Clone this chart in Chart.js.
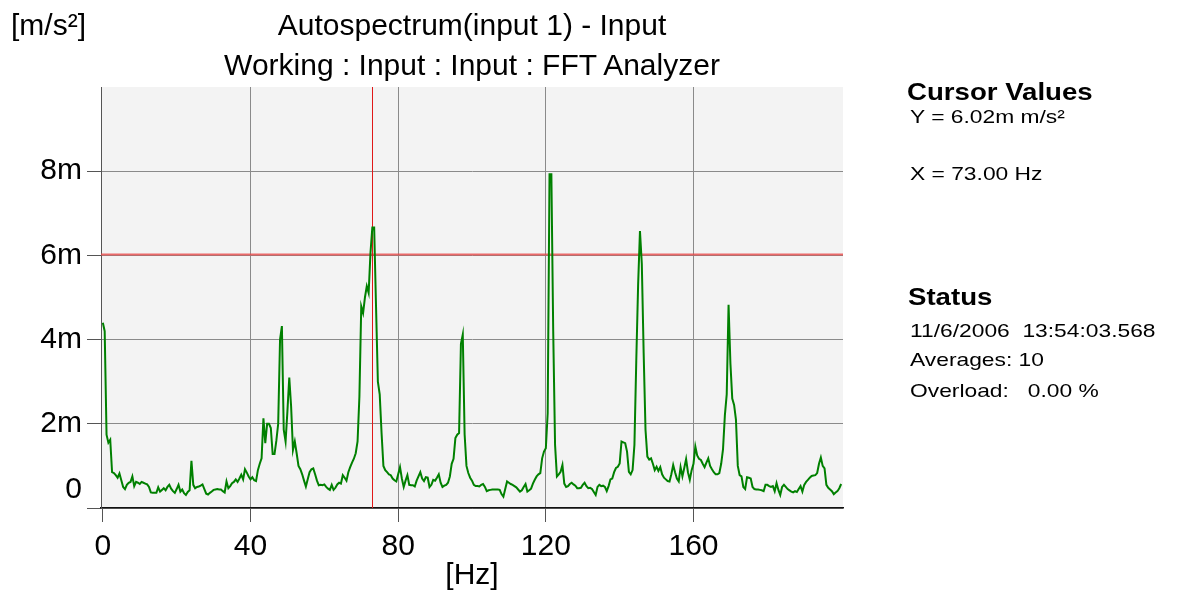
<!DOCTYPE html>
<html>
<head>
<meta charset="utf-8">
<title>Autospectrum</title>
<script src="https://cdn.jsdelivr.net/npm/chart.js@4.4.1/dist/chart.umd.min.js"></script>
<style>
  body { margin: 0; background: #fff; font-family: "Liberation Sans", Arial, sans-serif; }
  #wrap { position: relative; width: 1182px; height: 593px; overflow: hidden; }
  #chart { position: absolute; left: 0; top: 0; }
  .t { position: absolute; white-space: pre; line-height: 1; color: #000; }
  .big { font-size: 30px; }
  .center { text-align: center; }
  .head { font-size: 24px; font-weight: bold; transform: scaleX(1.15); transform-origin: left top; }
  .small { font-size: 19px; transform: scaleX(1.2); transform-origin: left top; }
</style>
</head>
<body>
<div id="wrap">
  <canvas id="chart" width="1182" height="593"></canvas>

  <div class="t big" style="left:11px; top:10px;">[m/s²]</div>
  <div class="t big center" style="left:172px; width:600px; top:10px;">Autospectrum(input 1) - Input</div>
  <div class="t big center" style="left:172px; width:600px; top:50px;">Working : Input : Input : FFT Analyzer</div>
  <div class="t big center" style="left:372px; width:200px; top:559px;">[Hz]</div>

  <div class="t head" style="left:907px; top:80px;">Cursor Values</div>
  <div class="t small" style="left:910px; top:107px;">Y = 6.02m m/s²</div>
  <div class="t small" style="left:910px; top:164px;">X = 73.00 Hz</div>

  <div class="t head" style="left:908px; top:285px;">Status</div>
  <div class="t small" style="left:910px; top:321px;">11/6/2006  13:54:03.568</div>
  <div class="t small" style="left:910px; top:350px;">Averages: 10</div>
  <div class="t small" style="left:910px; top:381px;">Overload:   0.00 %</div>
</div>

<script>
  // --- data: autospectrum, 0.5 Hz lines, values in m (milli) m/s² ---
  const FREQ_STEP = 0.5;
  const AMPLITUDE = [
    4.4, 4.2, 1.74, 1.55, 1.62, 0.85, 0.83, 0.78, 0.72, 0.82,
    0.66, 0.5, 0.45, 0.55, 0.6, 0.62, 0.75, 0.52, 0.62, 0.6,
    0.57, 0.62, 0.6, 0.58, 0.56, 0.5, 0.37, 0.36, 0.36, 0.36,
    0.49, 0.39, 0.43, 0.47, 0.42, 0.5, 0.55, 0.46, 0.4, 0.36,
    0.45, 0.55, 0.39, 0.44, 0.35, 0.31, 0.38, 0.42, 1.12, 0.55,
    0.47, 0.5, 0.51, 0.53, 0.56, 0.45, 0.34, 0.32, 0.36, 0.39,
    0.43, 0.44, 0.45, 0.44, 0.44, 0.4, 0.37, 0.63, 0.47, 0.52,
    0.59, 0.62, 0.68, 0.62, 0.7, 0.79, 0.68, 0.92, 0.84, 0.75,
    0.68, 0.73, 0.66, 0.64, 0.9, 1.05, 1.18, 2.13, 1.54, 2.0,
    2.0, 1.9, 1.28, 1.28, 1.6, 2.0, 4.0, 4.32, 1.86, 1.58,
    2.3, 3.1, 2.41, 1.38, 1.58, 1.3, 1.0, 0.92, 0.8, 0.65,
    0.51, 0.68, 0.85, 0.92, 0.94, 0.8, 0.65, 0.54, 0.55, 0.54,
    0.56, 0.5, 0.46, 0.43, 0.55, 0.43, 0.48, 0.56, 0.6, 0.58,
    0.78, 0.72, 0.65, 0.85, 0.97, 1.08, 1.17, 1.3, 1.58, 2.65,
    4.79, 4.63, 5.0, 5.27, 5.11, 6.06, 6.66, 6.66, 4.8, 3.0,
    2.7, 1.78, 1.0, 0.9, 0.85, 0.8, 0.78, 0.7, 0.66, 0.63,
    0.8, 0.97, 0.7, 0.5, 0.65, 0.78, 0.55, 0.54, 0.54, 0.51,
    0.65, 0.75, 0.85, 0.7, 0.64, 0.73, 0.72, 0.5, 0.55, 0.67,
    0.65, 0.72, 0.8, 0.6, 0.5, 0.53, 0.55, 0.6, 0.75, 1.05,
    1.17, 1.66, 1.74, 1.78, 3.9, 4.12, 1.75, 1.0, 0.83, 0.72,
    0.65, 0.55, 0.52, 0.52, 0.51, 0.55, 0.57, 0.5, 0.4, 0.42,
    0.43, 0.44, 0.44, 0.44, 0.44, 0.43, 0.33, 0.27, 0.45, 0.63,
    0.6, 0.57, 0.55, 0.52, 0.49, 0.44, 0.39, 0.42, 0.5, 0.57,
    0.39, 0.42, 0.46, 0.58, 0.67, 0.75, 0.8, 0.83, 1.18, 1.34,
    1.42, 2.25, 7.93, 7.93, 4.2, 1.5, 0.75, 0.8, 0.86, 1.02,
    0.58, 0.5, 0.52, 0.57, 0.6, 0.56, 0.53, 0.47, 0.47, 0.48,
    0.55, 0.6, 0.52, 0.47, 0.48, 0.45, 0.38, 0.31, 0.5, 0.55,
    0.52, 0.53, 0.5, 0.4, 0.52, 0.68, 0.7, 0.85, 0.95, 0.98,
    1.06, 1.58, 1.56, 1.54, 1.34, 0.86, 0.8, 0.9, 1.5, 3.5,
    5.3, 6.58, 5.8, 3.68, 1.86, 1.22, 1.15, 1.18, 1.05, 0.9,
    0.98, 0.88, 0.97, 0.8, 0.72, 0.68, 0.64, 0.63, 0.8, 1.02,
    0.85, 0.7, 0.63, 0.97, 0.75, 0.95, 1.16, 0.85, 0.67, 0.9,
    1.05, 1.46, 1.25, 1.17, 1.14, 1.05, 0.97, 1.08, 1.18, 1.0,
    0.92, 0.85, 0.8, 0.8, 0.83, 1.05, 1.4, 2.2, 2.7, 4.83,
    3.44, 2.6, 2.45, 2.1, 1.0, 0.78, 0.75, 0.5, 0.45, 0.73,
    0.72, 0.7, 0.5, 0.45, 0.44, 0.44, 0.43, 0.42, 0.4, 0.55,
    0.55, 0.52, 0.5, 0.52, 0.4, 0.59, 0.43, 0.31, 0.5, 0.55,
    0.5, 0.45, 0.42, 0.39, 0.37, 0.4, 0.38, 0.45, 0.52, 0.39,
    0.55, 0.62, 0.67, 0.72, 0.76, 0.77, 0.78, 0.83, 1.05, 1.2,
    1.0, 0.94, 0.55, 0.48, 0.44, 0.4, 0.33, 0.37, 0.4, 0.47,
    0.57
  ];
  const X_TICKS = [0, 40, 80, 120, 160];
  const Y_TICKS = [0, 2, 4, 6, 8];
  const CURSOR_X = 73.0;   // Hz
  const CURSOR_Y = 6.02;   // m m/s²

  const FONT = '"Liberation Sans", Arial, sans-serif';
  Chart.defaults.font.family = FONT;

  const points = AMPLITUDE.map((v, i) => ({ x: i * FREQ_STEP, y: v }));

  // plot background, cursors, and the lifted "0" label
  const plotDecor = {
    id: "plotDecor",
    beforeDraw(chart) {
      const { ctx, chartArea: a } = chart;
      ctx.save();
      ctx.fillStyle = "#f3f3f3";
      ctx.fillRect(a.left, a.top, a.right - a.left, a.bottom - a.top);
      ctx.restore();
    },
    beforeDatasetsDraw(chart) {
      const { ctx, chartArea: a, scales } = chart;
      const cx = Math.round(scales.x.getPixelForValue(CURSOR_X)) + 0.5;
      const cy = scales.y.getPixelForValue(CURSOR_Y);
      ctx.save();
      ctx.strokeStyle = "rgba(232, 70, 70, 0.8)";
      ctx.lineWidth = 2;
      ctx.beginPath();
      ctx.moveTo(a.left, cy);
      ctx.lineTo(a.right, cy);
      ctx.stroke();
      ctx.strokeStyle = "#e01818";
      ctx.lineWidth = 1;
      ctx.beginPath();
      ctx.moveTo(cx, a.top);
      ctx.lineTo(cx, a.bottom);
      ctx.stroke();
      ctx.restore();
    },
    afterDraw(chart) {
      const { ctx, chartArea: a, scales } = chart;
      ctx.save();
      ctx.font = "30px " + FONT;
      ctx.fillStyle = "#000";
      ctx.textAlign = "right";
      ctx.textBaseline = "middle";
      ctx.fillText("0", a.left - 14 - 5, scales.y.getPixelForValue(0) - 18);
      ctx.restore();
    }
  };

  new Chart(document.getElementById("chart"), {
    type: "line",
    data: {
      datasets: [{
        data: points,
        borderColor: "#008000",
        borderWidth: 2,
        pointRadius: 0,
        tension: 0,
        fill: false
      }]
    },
    options: {
      responsive: false,
      animation: false,
      layout: { padding: { left: 0, top: 87, right: 339, bottom: 0 } },
      plugins: {
        legend: { display: false },
        tooltip: { enabled: false },
        title: { display: false }
      },
      scales: {
        x: {
          type: "linear",
          min: -0.5,
          max: 200.5,
          afterBuildTicks: s => { s.ticks = X_TICKS.map(v => ({ value: v })); },
          afterFit: s => { s.height = 85; },
          grid: {
            color: c => (c.tick && c.tick.value === 0 ? "rgba(0,0,0,0)" : "#8a8a8a"),
            tickColor: "#555",
            tickLength: 14,
            lineWidth: 1
          },
          border: { color: "#111", width: 1.5 },
          ticks: {
            color: "#000",
            font: { size: 30 },
            padding: 7,
            maxRotation: 0,
            autoSkip: false,
            callback: v => String(v)
          }
        },
        y: {
          min: 0,
          max: 10,
          afterBuildTicks: s => { s.ticks = Y_TICKS.map(v => ({ value: v })); },
          afterFit: s => { s.width = 101; },
          grid: { color: "#8a8a8a", tickColor: "#555", tickLength: 14, lineWidth: 1 },
          border: { color: "#555", width: 1 },
          ticks: {
            color: "#000",
            font: { size: 30 },
            padding: 5,
            autoSkip: false,
            callback: v => (v === 0 ? "" : v + "m")
          }
        }
      }
    },
    plugins: [plotDecor]
  });
</script>
</body>
</html>
